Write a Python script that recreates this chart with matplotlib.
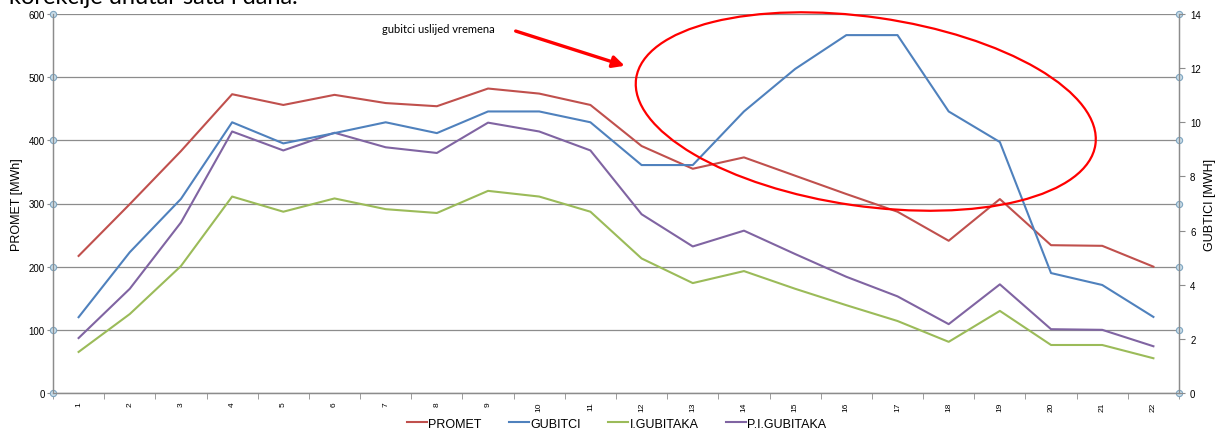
import matplotlib

matplotlib.use("Agg")
import matplotlib.pyplot as plt
import matplotlib.transforms as mtransforms
from matplotlib.patches import Ellipse
import numpy as np

plt.rcParams["font.family"] = ["Liberation Sans", "DejaVu Sans"]

hours = [str(i) for i in range(1, 23)]
promet = [217, 299, 383, 473, 456, 472, 459, 454, 482, 474, 456, 391, 355, 373,
          344, 315, 287, 241, 307, 234, 233, 200]
i_gubitaka = [65, 125, 201, 311, 287, 308, 291, 285, 320, 311, 287, 213, 174, 193,
              165, 139, 114, 81, 130, 76, 76, 55]
pi_gubitaka = [87, 165, 270, 414, 384, 412, 389, 380, 428, 414, 384, 283, 232, 257,
               220, 184, 153, 109, 172, 101, 100, 74]
gubitci = [2.80, 5.20, 7.17, 10.0, 9.22, 9.60, 10.0, 9.60, 10.4, 10.4, 10.0, 8.42,
           8.42, 10.4, 11.97, 13.22, 13.22, 10.4, 9.27, 4.43, 3.99, 2.81]

C_RED = "#C0504D"
C_BLUE = "#4F81BD"
C_GREEN = "#9BBB59"
C_PURPLE = "#8064A2"
GRID = "#8c8c8c"

fig = plt.figure(figsize=(12.16, 4.35), dpi=100)
ax = fig.add_axes([53 / 1216, 41 / 435, 1126 / 1216, 379 / 435])
ax2 = ax.twinx()

x = np.arange(len(hours))
l1, = ax.plot(x, promet, color=C_RED, lw=1.5, label="PROMET")
l3, = ax.plot(x, i_gubitaka, color=C_GREEN, lw=1.5, label="I.GUBITAKA")
l4, = ax.plot(x, pi_gubitaka, color=C_PURPLE, lw=1.5, label="P.I.GUBITAKA")
l2, = ax2.plot(x, gubitci, color=C_BLUE, lw=1.5, label="GUBITCI")

ax.set_xlim(-0.5, len(hours) - 0.5)
ax.set_ylim(0, 600)
ax2.set_ylim(0, 14)

# y axes
ax.set_yticks(np.arange(0, 601, 100))
ax.tick_params(axis="y", labelsize=7, length=4, color=GRID, pad=2)
ax.yaxis.grid(True, color=GRID, lw=0.9)
ax.set_axisbelow(True)
ax2.set_yticks(np.arange(0, 15, 2))
ax2.tick_params(axis="y", labelsize=7, length=4, color=GRID, pad=4)
ax.set_ylabel("PROMET [MWh]", fontsize=9, labelpad=4)
ax2.set_ylabel("GUBTICI [MWH]", fontsize=9, labelpad=2)

# circle markers on both axes at the gridline heights
ytr = ax.get_yaxis_transform()
grid_vals = np.arange(0, 601, 100)
for xpos in (0, 1):
    ax.plot(np.full(len(grid_vals), xpos), grid_vals, "o", ms=4.5, mfc="#c8dce8",
            mec="#7fa5c0", mew=0.8, transform=ytr, clip_on=False, zorder=5)

# category x axis
ax.set_xticks(x)
ax.set_xticklabels(hours, rotation=90, fontsize=6)
ax.set_xticks(np.arange(-0.5, len(hours)), minor=True)
ax.tick_params(axis="x", which="major", length=0, pad=6)
ax.tick_params(axis="x", which="minor", length=4, color=GRID)
ax2.tick_params(axis="x", length=0)

for a in (ax, ax2):
    a.spines["top"].set_visible(False)
    for s in ("left", "right", "bottom"):
        a.spines[s].set_color(GRID)
        a.spines[s].set_linewidth(0.9)

fig.legend([l1, l2, l3, l4], ["PROMET", "GUBITCI", "I.GUBITAKA", "P.I.GUBITAKA"],
           loc="center", bbox_to_anchor=(0.507, 0.024), ncol=4, frameon=False,
           fontsize=9, handlelength=1.6, handletextpad=0.1, columnspacing=2.2)

# annotation: ellipse around the loss peak, arrow and note
center = ax.transData.transform((15.38, 445.6))
ell = Ellipse((0, 0), width=464, height=189, angle=-8.2, fill=False,
              edgecolor="#ff0000", lw=1.6,
              transform=mtransforms.Affine2D().translate(*center), zorder=6)
fig.add_artist(ell)
ax.annotate("", xy=(10.67, 518), xytext=(8.54, 573), annotation_clip=False,
            arrowprops=dict(arrowstyle="-|>,head_length=0.7,head_width=0.35",
                            color="#ff0000", lw=2.4, shrinkA=0, shrinkB=0))
ax.text(7.02, 577, "gubitci uslijed vremena", fontsize=8, ha="center", va="center",
        family=["Lato", "DejaVu Sans"])

fig.text(0.007, 1 - 4 / 435, "korekcije unutar sata i dana.", fontsize=17,
         va="baseline", ha="left", family=["Lato", "DejaVu Sans"])

fig.savefig("out.png", dpi=100)
plt.close(fig)
